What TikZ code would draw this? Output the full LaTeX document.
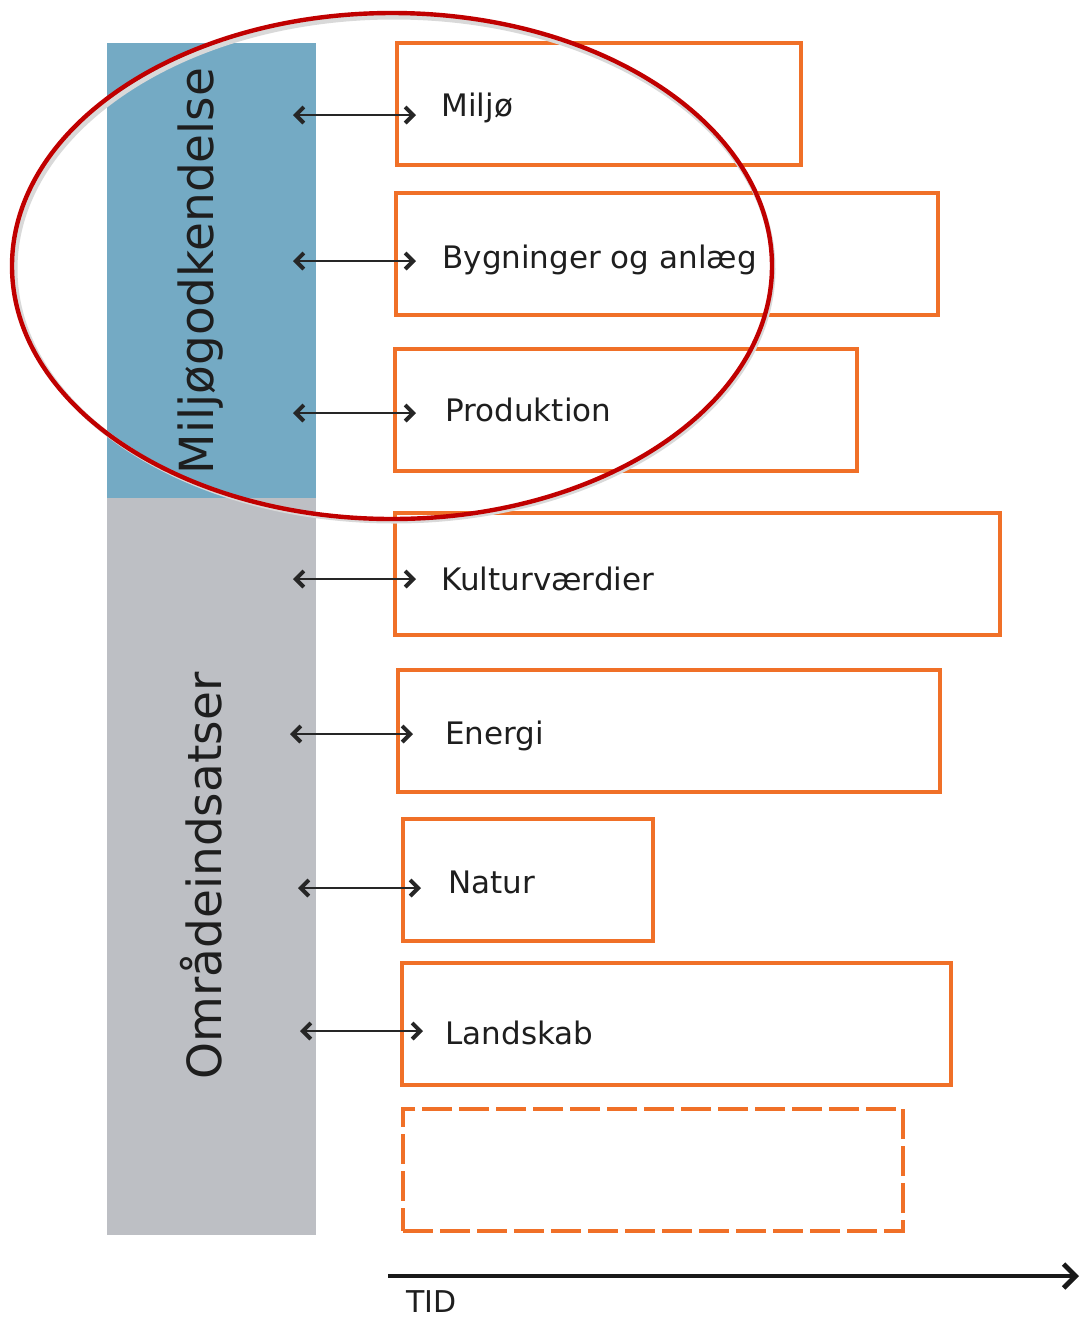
\documentclass[tikz,border=0pt]{standalone}
\usepackage{fontspec}
\setmainfont{DejaVu Sans}
\usetikzlibrary{arrows.meta,positioning,calc,shapes.geometric}
\definecolor{bandblue}{RGB}{116,170,196}
\definecolor{bandgrey}{RGB}{189,191,196}
\definecolor{boxorange}{RGB}{240,112,40}
\definecolor{ringred}{RGB}{192,0,0}
\definecolor{textdark}{RGB}{30,30,30}

\begin{document}
\begin{tikzpicture}[x=0.5pt,y=-0.5pt,
                bandbox/.style={rectangle, draw=none, anchor=north west, inner sep=0, minimum width=104.5pt},
                bandlabel/.style={rotate=90, inner sep=0, font=\fontsize{23.5}{28}\selectfont, text=textdark},
                topicbox/.style={rectangle, draw=boxorange, line width=2pt, anchor=north west, inner sep=0, minimum height=61pt},
                blankbox/.style={topicbox, dash pattern=on 15pt off 3.5pt},
                topiclabel/.style={anchor=west, inner sep=0, text height=11pt, text depth=0pt, font=\fontsize{15.5}{18}\selectfont, text=textdark},
                link/.style={{Straight Barb[length=4pt,width=8pt,line width=2pt]}-{Straight Barb[length=4pt,width=8pt,line width=2pt]}, line width=1.3pt, black!85},
                timeaxis/.style={-{Straight Barb[length=6pt,width=12pt,line width=2.4pt]}, line width=2.2pt, black!90},
                ring/.style={ellipse, draw=ringred, line width=2.2pt, inner sep=0, minimum width=380pt, minimum height=253pt},
            ]
            \useasboundingbox (0,0) rectangle (1082,1319);

            %Bands
            \node[bandbox, fill=bandblue, minimum height=227.5pt] (godkband) at (107,43) {};
            \node[bandbox, fill=bandgrey, minimum height=368.5pt] (omraadeband) at (107,498) {};
            \node[bandlabel] (godk) at (201,271) {Miljøgodkendelse};
            \node[bandlabel] (omraade) at (201,876) {Områdeindsatser};

            %Boxes
            \node[topicbox, minimum width=202pt]   (miljo)    at (395,41)   {};
            \node[topicbox, minimum width=271pt]   (bygning)  at (394,191)  {};
            \node[topicbox, minimum width=231pt]   (produk)   at (393,347)  {};
            \node[topicbox, minimum width=302.5pt] (kultur)   at (393,511)  {};
            \node[topicbox, minimum width=271pt]   (energi)   at (396,668)  {};
            \node[topicbox, minimum width=125pt]   (natur)    at (401,817)  {};
            \node[topicbox, minimum width=274.5pt] (landskab) at (400,961)  {};
            \node[blankbox, minimum width=250pt]   (blank)    at (401,1107) {};

            %Labels
            \node[topiclabel] (miljot)    at (441,105)  {Miljø};
            \node[topiclabel] (bygningt)  at (442,257)  {Bygninger og anlæg};
            \node[topiclabel] (produkt)   at (445,410)  {Produktion};
            \node[topiclabel] (kulturt)   at (441,579)  {Kulturværdier};
            \node[topiclabel] (energit)   at (445,733)  {Energi};
            \node[topiclabel] (naturt)    at (448,882)  {Natur};
            \node[topiclabel] (landskabt) at (445,1033) {Landskab};

            %Arrow ends
            \coordinate (a1) at (293,115);  \coordinate (b1) at (416,115);
            \coordinate (a2) at (293,261);  \coordinate (b2) at (416,261);
            \coordinate (a3) at (293,413);  \coordinate (b3) at (416,413);
            \coordinate (a4) at (293,579);  \coordinate (b4) at (416,579);
            \coordinate (a5) at (290,734);  \coordinate (b5) at (413,734);
            \coordinate (a6) at (298,888);  \coordinate (b6) at (421,888);
            \coordinate (a7) at (300,1031); \coordinate (b7) at (423,1031);

            %Lines
            \foreach \i in {1,...,7}
                \draw[link] (a\i) -- (b\i);

            %Time
            \coordinate (t0) at (388,1276);
            \coordinate (t1) at (1079,1276);
            \draw[timeaxis] (t0) -- (t1);
            \node[anchor=west, inner sep=0, text height=10.5pt, text depth=0pt, font=\fontsize{15}{18}\selectfont, text=textdark] (tid) at (406,1302) {TID};

            %Ring
            \draw[black!15, line width=2.5pt] (394,269) ellipse [x radius=379, y radius=252];
            \node[ring] (ringnode) at (392,266) {};
        \end{tikzpicture}
\end{document}
